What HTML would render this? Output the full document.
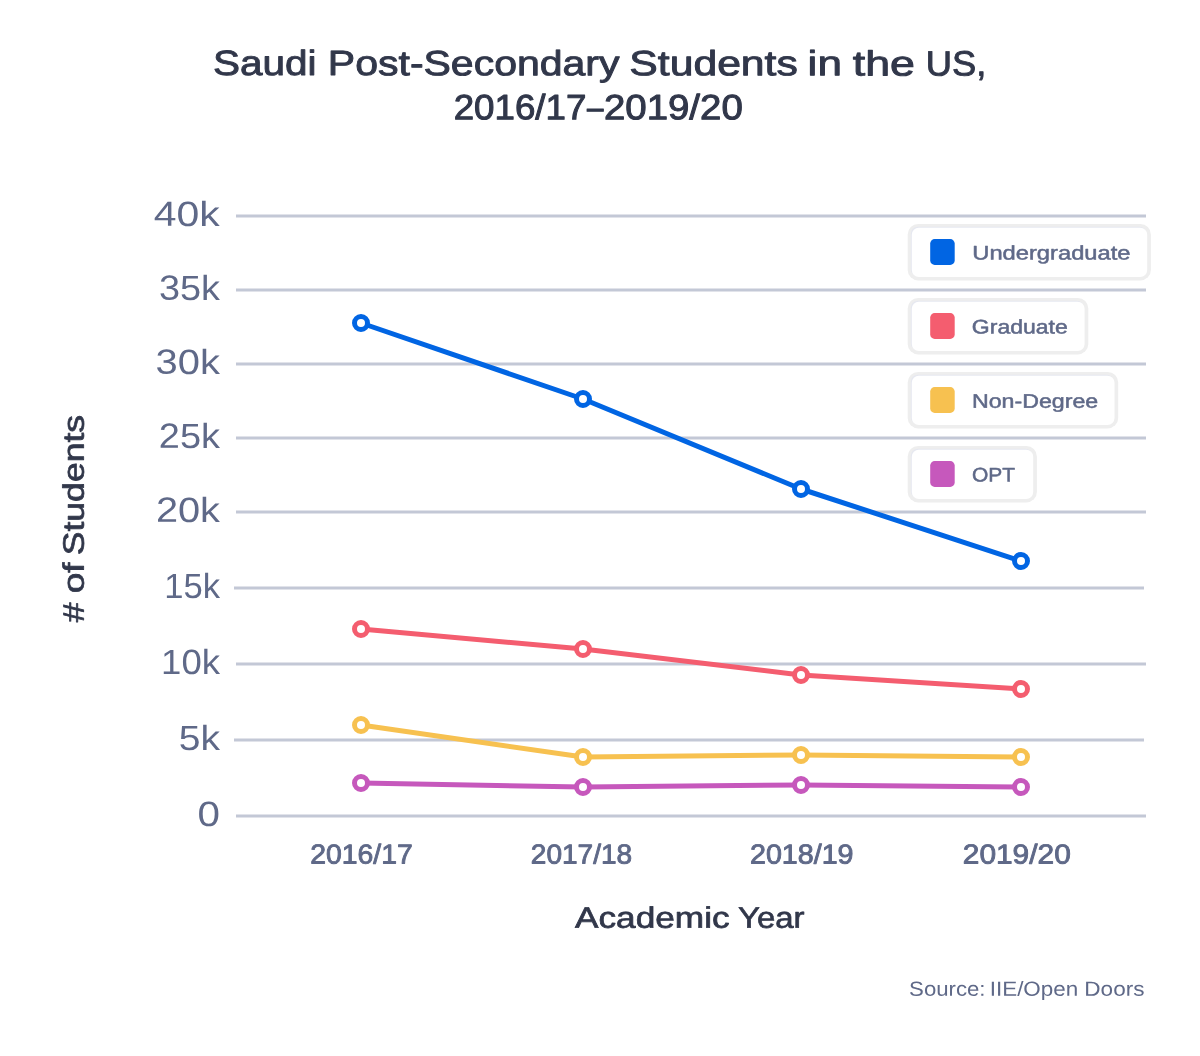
<!DOCTYPE html>
<html lang="en"><head><meta charset="utf-8">
<title>Saudi Post-Secondary Students in the US, 2016/17–2019/20</title>
<style>
html,body{margin:0;padding:0;background:#fff;}
body{width:1200px;height:1056px;overflow:hidden;}
svg{display:block;}
text{font-family:"Liberation Sans", Arial, Helvetica, sans-serif;}
</style></head><body>
<svg width="1200" height="1056" viewBox="0 0 1200 1056">
<rect width="1200" height="1056" fill="#ffffff"/>
<g stroke="#c3c8d6" stroke-width="3">
<line x1="236" y1="216" x2="1146" y2="216"/>
<line x1="236" y1="290" x2="1146" y2="290"/>
<line x1="236" y1="364" x2="1146" y2="364"/>
<line x1="236" y1="438" x2="1146" y2="438"/>
<line x1="236" y1="512" x2="1146" y2="512"/>
<line x1="234" y1="588" x2="1144" y2="588"/>
<line x1="236" y1="664" x2="1146" y2="664"/>
<line x1="234" y1="740" x2="1144" y2="740"/>
<line x1="236" y1="816" x2="1146" y2="816"/>
</g>
<text x="153.82" y="225.9" textLength="65.95" lengthAdjust="spacingAndGlyphs" font-size="35.0" fill="#5f6988" transform="rotate(0.03 186.8 225.9)">40k</text>
<text x="159.06" y="299.9" textLength="60.95" lengthAdjust="spacingAndGlyphs" font-size="35.0" fill="#5f6988" transform="rotate(0.03 189.5 299.9)">35k</text>
<text x="155.62" y="373.9" textLength="64.34" lengthAdjust="spacingAndGlyphs" font-size="35.0" fill="#5f6988" transform="rotate(0.03 187.8 373.9)">30k</text>
<text x="158.85" y="447.9" textLength="61.1" lengthAdjust="spacingAndGlyphs" font-size="35.0" fill="#5f6988" transform="rotate(0.03 189.4 447.9)">25k</text>
<text x="155.9" y="521.9" textLength="64.02" lengthAdjust="spacingAndGlyphs" font-size="35.0" fill="#5f6988" transform="rotate(0.03 187.9 521.9)">20k</text>
<text x="164.26" y="597.9" textLength="55.72" lengthAdjust="spacingAndGlyphs" font-size="35.0" fill="#5f6988" transform="rotate(0.03 192.1 597.9)">15k</text>
<text x="161.12" y="673.9" textLength="58.88" lengthAdjust="spacingAndGlyphs" font-size="35.0" fill="#5f6988" transform="rotate(0.03 190.6 673.9)">10k</text>
<text x="178.76" y="749.9" textLength="41.17" lengthAdjust="spacingAndGlyphs" font-size="35.0" fill="#5f6988" transform="rotate(0.03 199.3 749.9)">5k</text>
<text x="197.58" y="825.9" textLength="22.44" lengthAdjust="spacingAndGlyphs" font-size="35.0" fill="#5f6988" transform="rotate(0.03 208.8 825.9)">0</text>
<rect x="907.7" y="224.0" width="243.2" height="56.4" rx="10.5" fill="#eeeeee"/>
<rect x="910.8" y="226.8" width="235.4" height="49.2" rx="7" fill="#e6e8f0"/>
<rect x="911.8" y="227.8" width="235.4" height="49.2" rx="7" fill="#ffffff"/>
<rect x="930.2" y="239.1" width="24.5" height="25.8" rx="4.5" fill="#0165e3"/>
<text x="972.31" y="259.55" textLength="158.18" lengthAdjust="spacingAndGlyphs" font-size="19.67" fill="#5f6988" stroke="#5f6988" stroke-width="0.5" stroke-linejoin="round" transform="rotate(0.03 1051.4 259.55)">Undergraduate</text>
<rect x="907.7" y="298.0" width="180.6" height="56.4" rx="10.5" fill="#eeeeee"/>
<rect x="910.8" y="300.8" width="172.8" height="49.2" rx="7" fill="#e6e8f0"/>
<rect x="911.8" y="301.8" width="172.8" height="49.2" rx="7" fill="#ffffff"/>
<rect x="930.2" y="313.1" width="24.5" height="25.8" rx="4.5" fill="#f45d6f"/>
<text x="971.89" y="333.55" textLength="95.92" lengthAdjust="spacingAndGlyphs" font-size="19.67" fill="#5f6988" stroke="#5f6988" stroke-width="0.5" stroke-linejoin="round" transform="rotate(0.03 1019.9 333.55)">Graduate</text>
<rect x="907.7" y="372.0" width="210.5" height="56.4" rx="10.5" fill="#eeeeee"/>
<rect x="910.8" y="374.8" width="202.7" height="49.2" rx="7" fill="#e6e8f0"/>
<rect x="911.8" y="375.8" width="202.7" height="49.2" rx="7" fill="#ffffff"/>
<rect x="930.2" y="387.1" width="24.5" height="25.8" rx="4.5" fill="#f7c150"/>
<text x="971.95" y="407.75" textLength="126.24" lengthAdjust="spacingAndGlyphs" font-size="19.67" fill="#5f6988" stroke="#5f6988" stroke-width="0.5" stroke-linejoin="round" transform="rotate(0.03 1035.1 407.75)">Non-Degree</text>
<rect x="907.7" y="446.0" width="129.2" height="56.4" rx="10.5" fill="#eeeeee"/>
<rect x="910.8" y="448.8" width="121.4" height="49.2" rx="7" fill="#e6e8f0"/>
<rect x="911.8" y="449.8" width="121.4" height="49.2" rx="7" fill="#ffffff"/>
<rect x="930.2" y="461.1" width="24.5" height="25.8" rx="4.5" fill="#c658bc"/>
<text x="971.97" y="481.6" textLength="43.08" lengthAdjust="spacingAndGlyphs" font-size="19.67" fill="#5f6988" stroke="#5f6988" stroke-width="0.5" stroke-linejoin="round" transform="rotate(0.03 993.5 481.6)">OPT</text>
<polyline points="361,323 583,399 801,489 1021,561" fill="none" stroke="#0165e3" stroke-width="5" stroke-linejoin="round" stroke-linecap="round"/>
<circle cx="361" cy="323" r="6.5" fill="#ffffff" stroke="#0165e3" stroke-width="5"/>
<circle cx="583" cy="399" r="6.5" fill="#ffffff" stroke="#0165e3" stroke-width="5"/>
<circle cx="801" cy="489" r="6.5" fill="#ffffff" stroke="#0165e3" stroke-width="5"/>
<circle cx="1021" cy="561" r="6.5" fill="#ffffff" stroke="#0165e3" stroke-width="5"/>
<polyline points="361,629 583,649 801,675 1021,689" fill="none" stroke="#f45d6f" stroke-width="5" stroke-linejoin="round" stroke-linecap="round"/>
<circle cx="361" cy="629" r="6.5" fill="#ffffff" stroke="#f45d6f" stroke-width="5"/>
<circle cx="583" cy="649" r="6.5" fill="#ffffff" stroke="#f45d6f" stroke-width="5"/>
<circle cx="801" cy="675" r="6.5" fill="#ffffff" stroke="#f45d6f" stroke-width="5"/>
<circle cx="1021" cy="689" r="6.5" fill="#ffffff" stroke="#f45d6f" stroke-width="5"/>
<polyline points="361,725 583,757 801,755 1021,757" fill="none" stroke="#f7c150" stroke-width="5" stroke-linejoin="round" stroke-linecap="round"/>
<circle cx="361" cy="725" r="6.5" fill="#ffffff" stroke="#f7c150" stroke-width="5"/>
<circle cx="583" cy="757" r="6.5" fill="#ffffff" stroke="#f7c150" stroke-width="5"/>
<circle cx="801" cy="755" r="6.5" fill="#ffffff" stroke="#f7c150" stroke-width="5"/>
<circle cx="1021" cy="757" r="6.5" fill="#ffffff" stroke="#f7c150" stroke-width="5"/>
<polyline points="361,783 583,787 801,785 1021,787" fill="none" stroke="#c658bc" stroke-width="5" stroke-linejoin="round" stroke-linecap="round"/>
<circle cx="361" cy="783" r="6.5" fill="#ffffff" stroke="#c658bc" stroke-width="5"/>
<circle cx="583" cy="787" r="6.5" fill="#ffffff" stroke="#c658bc" stroke-width="5"/>
<circle cx="801" cy="785" r="6.5" fill="#ffffff" stroke="#c658bc" stroke-width="5"/>
<circle cx="1021" cy="787" r="6.5" fill="#ffffff" stroke="#c658bc" stroke-width="5"/>
<text x="310.26" y="863.41" textLength="102.54" lengthAdjust="spacingAndGlyphs" font-size="27.41" fill="#5f6988" stroke="#5f6988" stroke-width="0.9" stroke-linejoin="round" transform="rotate(0.03 361.5 863.41)">2016/17</text>
<text x="530.85" y="863.41" textLength="101.29" lengthAdjust="spacingAndGlyphs" font-size="27.41" fill="#5f6988" stroke="#5f6988" stroke-width="0.9" stroke-linejoin="round" transform="rotate(0.03 581.5 863.41)">2017/18</text>
<text x="749.97" y="863.41" textLength="103.59" lengthAdjust="spacingAndGlyphs" font-size="27.41" fill="#5f6988" stroke="#5f6988" stroke-width="0.9" stroke-linejoin="round" transform="rotate(0.03 801.8 863.41)">2018/19</text>
<text x="962.79" y="863.41" textLength="107.98" lengthAdjust="spacingAndGlyphs" font-size="27.41" fill="#5f6988" stroke="#5f6988" stroke-width="0.9" stroke-linejoin="round" transform="rotate(0.03 1016.8 863.41)">2019/20</text>
<text y="75.26" font-size="35.08" fill="#31374a" stroke="#31374a" stroke-width="0.9" stroke-linejoin="round" transform="rotate(0.03 599.6 75.26)"><tspan x="213.02" textLength="103.52" lengthAdjust="spacingAndGlyphs">Saudi</tspan> <tspan x="327.87" textLength="291.65" lengthAdjust="spacingAndGlyphs">Post-Secondary</tspan> <tspan x="629.33" textLength="168.49" lengthAdjust="spacingAndGlyphs">Students</tspan> <tspan x="807.64" textLength="34.28" lengthAdjust="spacingAndGlyphs">in</tspan> <tspan x="852.81" textLength="62.16" lengthAdjust="spacingAndGlyphs">the</tspan> <tspan x="925.71" textLength="60.57" lengthAdjust="spacingAndGlyphs">US,</tspan></text>
<text y="119.31" font-size="35.22" fill="#31374a" stroke="#31374a" stroke-width="1.0" stroke-linejoin="round" transform="rotate(0.03 598.2 119.31)"><tspan x="453.73" textLength="132.6" lengthAdjust="spacingAndGlyphs">2016/17</tspan><tspan x="587.11" textLength="16.45" lengthAdjust="spacingAndGlyphs">–</tspan><tspan x="603.94" textLength="138.8" lengthAdjust="spacingAndGlyphs">2019/20</tspan></text>
<text y="927.75" font-size="29.64" fill="#31374a" stroke="#31374a" stroke-width="0.7" stroke-linejoin="round" transform="rotate(0.03 689.8 927.75)"><tspan x="574.98" textLength="154.66" lengthAdjust="spacingAndGlyphs">Academic</tspan> <tspan x="737.94" textLength="66.61" lengthAdjust="spacingAndGlyphs">Year</tspan></text>
<text y="0" font-size="29.64" fill="#31374a" stroke="#31374a" stroke-width="0.7" stroke-linejoin="round" transform="translate(83.75 622.6) rotate(-89.97)"><tspan x="0.26" textLength="19.71" lengthAdjust="spacingAndGlyphs">#</tspan> <tspan x="29.27" textLength="30.9" lengthAdjust="spacingAndGlyphs">of</tspan> <tspan x="67.38" textLength="140.32" lengthAdjust="spacingAndGlyphs">Students</tspan></text>
<text y="995.8" font-size="20.35" fill="#5f6988" transform="rotate(0.03 1026.8 995.8)"><tspan x="909.12" textLength="76.4" lengthAdjust="spacingAndGlyphs">Source:</tspan> <tspan x="989.72" textLength="88.52" lengthAdjust="spacingAndGlyphs">IIE/Open</tspan> <tspan x="1084.35" textLength="60.15" lengthAdjust="spacingAndGlyphs">Doors</tspan></text>
</svg>
</body></html>
